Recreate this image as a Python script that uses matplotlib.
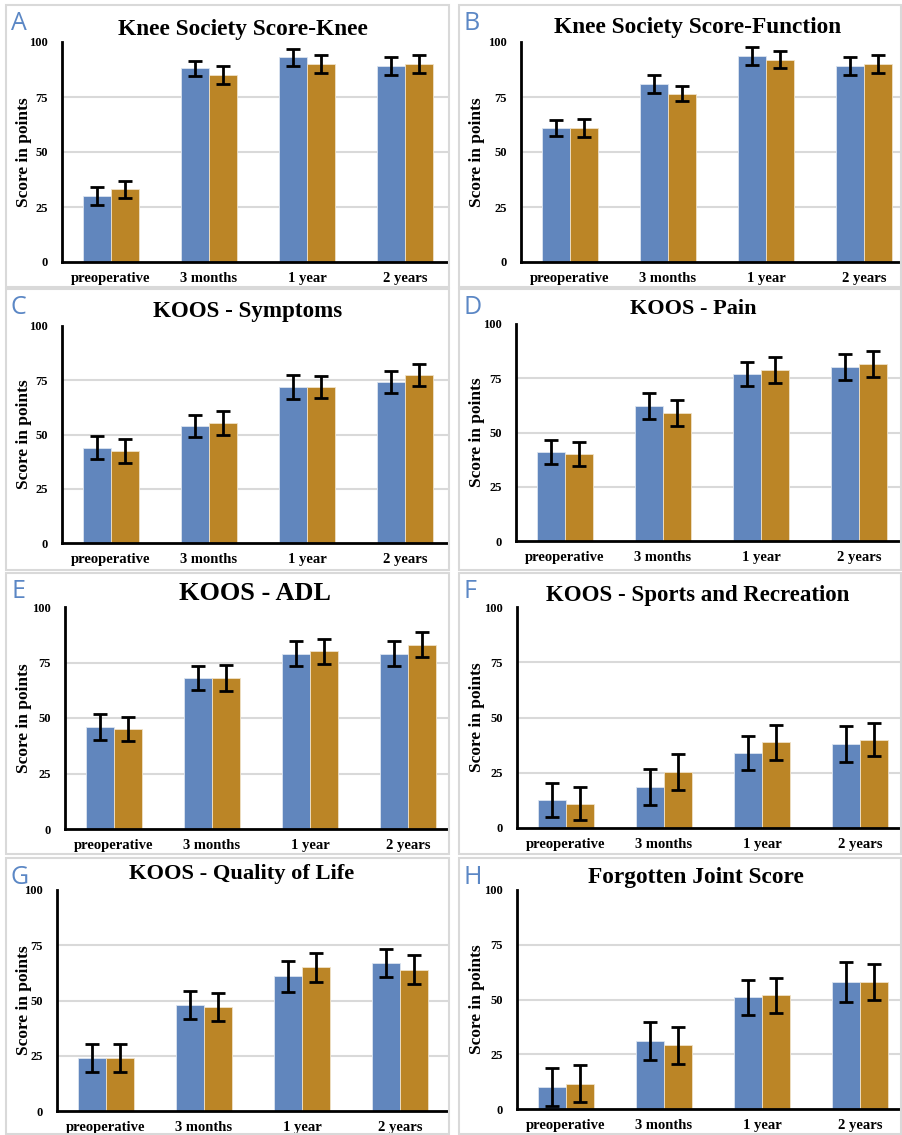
import matplotlib
matplotlib.use('Agg')
import matplotlib.pyplot as plt
from matplotlib.patches import Rectangle

# data (two groups per time point)
categories = ['preoperative', '3 months', '1 year', '2 years']

knee_blue = [30, 88, 93, 89]
knee_blue_err = [4, 3.5, 4, 4]
knee_gold = [33, 85, 90, 90]
knee_gold_err = [3.7, 4, 4, 4]

function_blue = [61, 81, 93.5, 89]
function_blue_err = [3.6, 4, 4, 4]
function_gold = [61, 76.5, 92, 90]
function_gold_err = [4, 3.5, 4, 4]

symptoms_blue = [44, 54, 72, 74.3]
symptoms_blue_err = [5.4, 5.2, 5.5, 5]
symptoms_gold = [42.3, 55.3, 72, 77.3]
symptoms_gold_err = [5.5, 5.6, 5, 5]

pain_blue = [41, 62, 77, 80]
pain_blue_err = [5.6, 6, 5.5, 6]
pain_gold = [40, 59, 79, 81.4]
pain_gold_err = [5.6, 6, 6, 6]

adl_blue = [46, 68, 79, 79]
adl_blue_err = [6, 5.6, 5.5, 5.6]
adl_gold = [45, 68, 80, 83]
adl_gold_err = [5.5, 6, 5.5, 5.6]

sports_blue = [12.7, 18.6, 34, 38]
sports_blue_err = [7.6, 8, 7.6, 8]
sports_gold = [11, 25.3, 38.7, 40]
sports_gold_err = [7.5, 8, 8, 7.5]

qol_blue = [24, 48, 61, 67]
qol_blue_err = [6.5, 6.5, 7, 6.5]
qol_gold = [24, 47, 65, 64]
qol_gold_err = [6.5, 6.5, 6.5, 6.5]

fjs_blue = [10, 31, 51, 58]
fjs_blue_err = [8.5, 8.6, 8, 9]
fjs_gold = [11.5, 29, 52, 58]
fjs_gold_err = [8.5, 8.5, 8, 8]

yticks = [0, 25, 50, 75, 100]

BLUE = '#6186bd'
GOLD = '#bb8526'
W, H = 903, 1135
SERIF = ['Liberation Serif', 'DejaVu Serif']

fig = plt.figure(figsize=(W / 100, H / 100), dpi=100)


def fx(x):
    return x / W


def fy(y):
    return 1 - y / H


# letter, title, title size, title x/y, axes left/top/bottom/right, panel box
panels = [
    ('A', 'Knee Society Score-Knee', 16.8, 243, 30, 62, 42, 262, 448, (6, 5, 449, 287),
     knee_blue, knee_blue_err, knee_gold, knee_gold_err),
    ('B', 'Knee Society Score-Function', 16.8, 698, 28, 521, 42, 262, 900, (459, 5, 901, 287),
     function_blue, function_blue_err, function_gold, function_gold_err),
    ('C', 'KOOS - Symptoms', 16.6, 248, 312, 62, 326, 543, 448, (6, 289, 449, 570),
     symptoms_blue, symptoms_blue_err, symptoms_gold, symptoms_gold_err),
    ('D', 'KOOS - Pain', 16, 693, 309, 516, 324, 541, 900, (459, 289, 901, 570),
     pain_blue, pain_blue_err, pain_gold, pain_gold_err),
    ('E', 'KOOS - ADL', 18.9, 255, 594, 65, 607, 829, 448, (6, 573, 449, 854),
     adl_blue, adl_blue_err, adl_gold, adl_gold_err),
    ('F', 'KOOS - Sports and Recreation', 16.5, 698, 595, 517, 607, 828, 900, (459, 573, 901, 854),
     sports_blue, sports_blue_err, sports_gold, sports_gold_err),
    ('G', 'KOOS - Quality of Life', 16.2, 242, 874, 57, 890, 1111, 448, (6, 858, 449, 1134),
     qol_blue, qol_blue_err, qol_gold, qol_gold_err),
    ('H', 'Forgotten Joint Score', 16.8, 696, 878, 517, 890, 1109, 900, (459, 858, 901, 1134),
     fjs_blue, fjs_blue_err, fjs_gold, fjs_gold_err),
]

cat_px = 98.0
bar_w = 0.283
x = list(range(len(categories)))

for (letter, title, tsize, tx, ty, left, top, bottom, right, box,
     blue, blue_err, gold, gold_err) in panels:
    # panel frame
    x0, y0, x1, y1 = box
    fig.patches.append(Rectangle((fx(x0), fy(y1)), fx(x1 - x0), (y1 - y0) / H,
                                 transform=fig.transFigure, fill=False,
                                 edgecolor='#d9d9d9', linewidth=1.5, zorder=0))

    ax = fig.add_axes([fx(left), fy(bottom), fx(right - left), (bottom - top) / H])
    ax.bar([i - bar_w / 2 for i in x], blue, bar_w, color=BLUE,
           edgecolor='#dce4f0', linewidth=0.6, zorder=2)
    ax.bar([i + bar_w / 2 for i in x], gold, bar_w, color=GOLD,
           edgecolor='#f0e2c8', linewidth=0.6, zorder=2)
    ax.errorbar([i - bar_w / 2 for i in x], blue, yerr=blue_err, fmt='none',
                ecolor='black', elinewidth=2, capsize=5, capthick=2, zorder=3)
    ax.errorbar([i + bar_w / 2 for i in x], gold, yerr=gold_err, fmt='none',
                ecolor='black', elinewidth=2, capsize=5, capthick=2, zorder=3)

    ax.set_ylim(0, 100)
    ax.set_xlim(-0.5, -0.5 + (right - left) / cat_px)
    ax.set_yticks(yticks)
    ax.set_yticklabels([str(t) for t in yticks], family=SERIF, fontweight='bold', fontsize=9)
    ax.set_xticks(x)
    ax.set_xticklabels(categories, family=SERIF, fontweight='bold', fontsize=10.5)
    ax.tick_params(axis='both', length=0)
    ax.tick_params(axis='y', pad=10)
    ax.tick_params(axis='x', pad=7)
    for t in yticks[1:-1]:
        ax.axhline(t, color='#d9d9d9', linewidth=1.5, zorder=1)
    ax.spines['top'].set_visible(False)
    ax.spines['right'].set_visible(False)
    ax.spines['left'].set_linewidth(2)
    ax.spines['bottom'].set_linewidth(2)
    ax.set_ylabel('Score in points', family=SERIF, fontweight='bold', fontsize=12.5)
    ax.yaxis.set_label_coords((x0 + 26 - left) / (right - left), 0.5)

    fig.text(fx(tx), fy(ty), title, ha='center', va='center', family=SERIF,
             fontweight='bold', fontsize=tsize)
    fig.text(fx(x0 + 5), fy(y0 + 19), letter, ha='left', va='center',
             family=['Open Sans', 'DejaVu Sans'], fontsize=18, color='#5b87c5')

fig.savefig('out.png', dpi=100)
